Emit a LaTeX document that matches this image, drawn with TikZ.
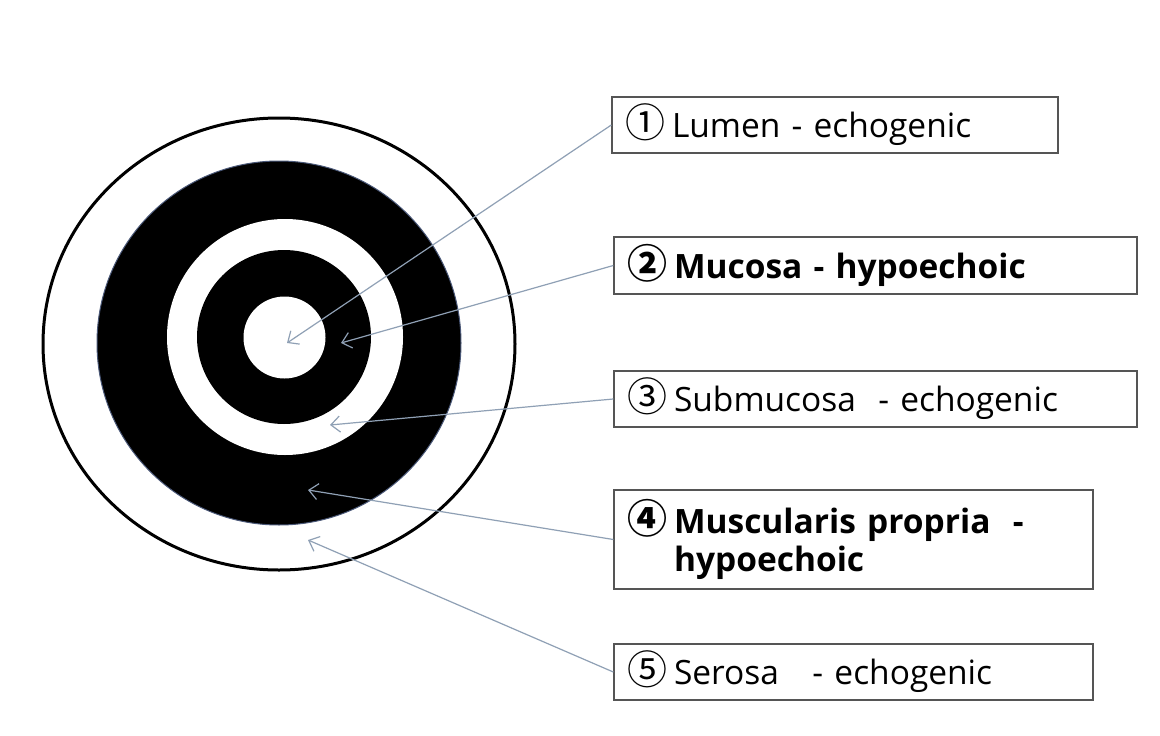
\documentclass[tikz,border=0pt]{standalone}
\usepackage{fontspec}
\setmainfont{Open Sans}
\newfontfamily\cjk{Noto Sans CJK KR}
\usetikzlibrary{arrows.meta}
\definecolor{arrowc}{HTML}{8FA0B5}
\definecolor{boxc}{HTML}{555555}
\definecolor{ringedge}{HTML}{4A5878}
\tikzset{
  labelbox/.style={draw=boxc, line width=1.4pt, rectangle, inner xsep=13pt, inner ysep=0pt,
    align=left, font=\fontsize{33.5}{38}\selectfont, anchor=center},
  boldbox/.style={labelbox, font=\fontsize{33.5}{38}\selectfont\bfseries},
  pointer/.style={draw=arrowc, line width=1.2pt, -{Straight Barb[length=9pt,width=16pt,line width=1.2pt]}}
}
\newcommand{\cn}[1]{{\cjk\fontsize{40}{38}\selectfont #1}\hspace{7pt}}
\begin{document}
\begin{tikzpicture}[x=1pt,y=-1pt]
\useasboundingbox (0,0) rectangle (1160,736);
\fill[white] (0,0) rectangle (1160,736);
% rings
\draw[black, line width=3pt, fill=white] (279,344) ellipse [x radius=236, y radius=226];
\fill[black] (279,343) circle [radius=182];
\draw[ringedge, line width=1pt] (279,343) circle [radius=182];
\fill[white] (285,337) circle [radius=118];
\fill[black] (284,337) circle [radius=87];
\fill[white] (284.5,337.5) circle [radius=41];
% pointer targets
\coordinate (p1) at (287,343);
\coordinate (p2) at (341,343);
\coordinate (p3) at (330,425);
\coordinate (p4) at (308,490);
\coordinate (p5) at (308,540);
% boxes
\node[labelbox, minimum width=446pt, minimum height=56pt, text width=420pt] (b1) at (835,125)
  {\cn{①}Lumen - echogenic};
\node[boldbox, minimum width=523pt, minimum height=57pt, text width=497pt] (b2) at (875.5,265.5)
  {\cn{②}Mucosa - hypoechoic};
\node[labelbox, minimum width=523pt, minimum height=56pt, text width=497pt] (b3) at (875.5,399)
  {\cn{③}Submucosa \ - echogenic};
\node[boldbox, minimum width=479pt, minimum height=99pt, text width=453pt] (b4) at (853.5,539.5)
  {\cn{④}Muscularis propria \ -\\\hphantom{\cn{④}}hypoechoic};
\node[labelbox, minimum width=479pt, minimum height=56pt, text width=453pt] (b5) at (853.5,672)
  {\cn{⑤}Serosa \ \ - echogenic};
% pointers
\draw[pointer] (b1.west) -- (p1);
\draw[pointer] (b2.west) -- (p2);
\draw[pointer] (b3.west) -- (p3);
\draw[pointer] (b4.west) -- (p4);
\draw[pointer] (b5.west) -- (p5);
\end{tikzpicture}
\end{document}
